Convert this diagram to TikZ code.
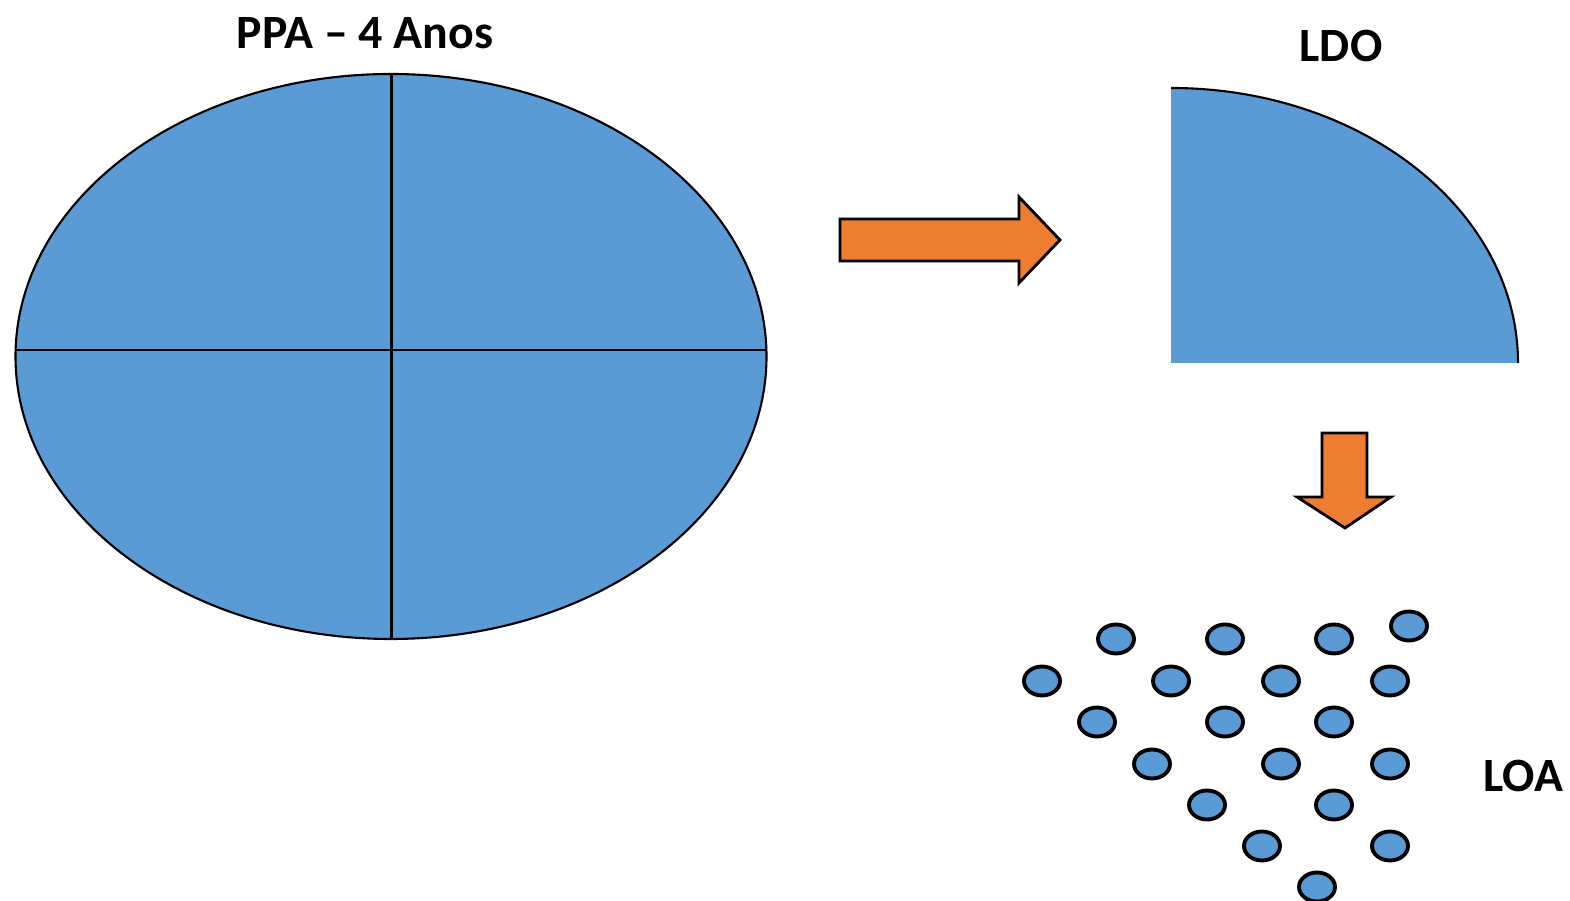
\documentclass[tikz,border=0pt]{standalone}
\usepackage{fontspec}
\setmainfont{Carlito}
\usepackage{tikz}
\usetikzlibrary{shapes.geometric}

\definecolor{planblue}{HTML}{5B9BD5}
\definecolor{arroworange}{HTML}{ED7D31}

\tikzset{
  title/.style={font=\bfseries\fontsize{13.6}{16}\selectfont, inner sep=0pt},
  acao/.style={ellipse, draw, line width=1.1pt, fill=planblue, inner sep=0pt,
               minimum width=0.36cm, minimum height=0.29cm},
  seta/.style={draw, line width=0.8pt, fill=arroworange, line join=miter}
}

\begin{document}
\begin{tikzpicture}
\useasboundingbox (0,0) rectangle (15.7,9.01);

% PPA
\filldraw[fill=planblue, line width=0.6pt] (3.91,5.445) ellipse [x radius=3.755, y radius=2.825];
\draw[line width=0.6pt] (0.155,5.51) -- (7.665,5.51);
\draw[line width=0.6pt] (3.915,8.27) -- (3.915,2.62);
\node[title, anchor=center] (ppa) at (3.65,8.68) {PPA – 4 Anos};

% seta para LDO
\draw[seta] (8.40,6.82) -- (10.19,6.82) -- (10.19,7.04) -- (10.60,6.61)
  -- (10.19,6.18) -- (10.19,6.40) -- (8.40,6.40) -- cycle;

% LDO
\fill[planblue] (11.71,5.38) -- (11.71,8.13) arc[start angle=90, end angle=0, x radius=3.47, y radius=2.75] -- cycle;
\draw[line width=0.6pt] (11.71,8.13) arc[start angle=90, end angle=0, x radius=3.47, y radius=2.75];
\node[title, anchor=center] (ldo) at (13.41,8.55) {LDO};

% seta para LOA
\draw[seta] (13.22,4.68) -- (13.67,4.68) -- (13.67,4.04) -- (13.91,4.04)
  -- (13.45,3.73) -- (12.97,4.04) -- (13.22,4.04) -- cycle;

% LOA
\node[acao] (a1) at (11.16,2.62) {};
\node[acao] (a2) at (12.25,2.62) {};
\node[acao] (a3) at (13.34,2.62) {};
\node[acao] (a4) at (14.09,2.75) {};
\node[acao] (b1) at (10.42,2.20) {};
\node[acao] (b2) at (11.71,2.20) {};
\node[acao] (b3) at (12.81,2.20) {};
\node[acao] (b4) at (13.90,2.20) {};
\node[acao] (c1) at (10.97,1.79) {};
\node[acao] (c2) at (12.25,1.79) {};
\node[acao] (c3) at (13.34,1.79) {};
\node[acao] (d1) at (11.52,1.37) {};
\node[acao] (d2) at (12.81,1.37) {};
\node[acao] (d3) at (13.90,1.37) {};
\node[acao] (e1) at (12.07,0.96) {};
\node[acao] (e2) at (13.34,0.96) {};
\node[acao] (f1) at (12.62,0.55) {};
\node[acao] (f2) at (13.90,0.55) {};
\node[acao] (g1) at (13.17,0.14) {};
\node[title, anchor=center] (loa) at (15.23,1.25) {LOA};

\end{tikzpicture}
\end{document}
